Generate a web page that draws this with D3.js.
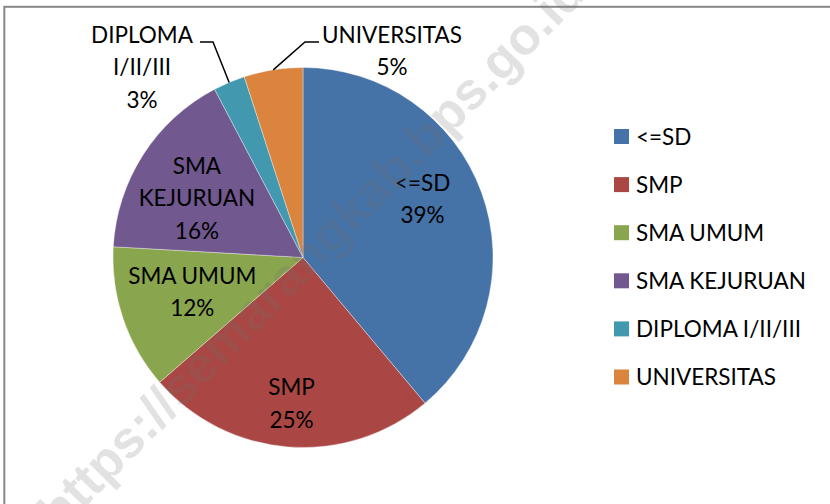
<!DOCTYPE html>
<html>
<head>
    <meta charset="utf-8">
    <script src="https://cdn.jsdelivr.net/npm/d3@7/dist/d3.min.js" charset="utf-8"></script>
    <title>Pendidikan - pie</title>
    <style type="text/css">
        html, body {
            margin: 0;
            padding: 0;
            background: #fff;
        }
        svg text {
            font-family: "Lato", "Noto Sans", sans-serif;
            font-size: 22.5px;
            fill: #000;
        }
        .watermark {
            font-family: "Liberation Sans", "Arial", sans-serif !important;
            font-weight: bold;
            font-size: 52px !important;
            fill: rgba(110, 110, 110, 0.2) !important;
        }
    </style>
</head>
<body>

<div id="chart"></div>

<script>

// data (percent of total)
var categories = ["<=SD", "SMP", "SMA UMUM", "SMA KEJURUAN", "DIPLOMA I/II/III", "UNIVERSITAS"];
var shares     = [38.9, 24.7, 12.3, 16.4, 2.7, 5.0];
var labelLines = [["<=SD"], ["SMP"], ["SMA UMUM"], ["SMA", "KEJURUAN"], ["DIPLOMA", "I/II/III"], ["UNIVERSITAS"]];
var colors     = ["#4572a7", "#aa4643", "#89a54e", "#71588f", "#4198af", "#db843d"];

var width = 830, height = 504;
var cx = 303, cy = 257.5, radius = 190;
var lineGap = 32.5, capH = 16;

// where the data labels sit: inside ones by radius fraction + angle nudge,
// outside ones (small slices) by block centre and leader elbow
var insideLabel = {
    0: {k: 0.70, da: -6},
    1: {k: 0.77, da: 0},
    2: {k: 0.61, da: 1.6},
    3: {k: 0.64, da: -3.5}
};
var outsideLabel = {
    4: {x: 142, y: 67,  elbow: [213, 42], end: [200, 42]},
    5: {x: 392, y: 51,  elbow: [305, 42], end: [319, 42]}
};

var svg = d3.select("#chart").append("svg")
        .attr("width", width)
        .attr("height", height);

// outer frame (runs past the right and bottom edge)
svg.append("rect")
        .attr("x", 4.3).attr("y", 6.8)
        .attr("width", 1000).attr("height", 700)
        .attr("fill", "none")
        .attr("stroke", "#888")
        .attr("stroke-width", 2);

var total = d3.sum(shares);
var pie = d3.pie().sort(null).value(function(d) { return d; });
var arcs = pie(shares);

var arc = d3.arc().innerRadius(0).outerRadius(radius);

var g = svg.append("g")
        .attr("transform", "translate(" + cx + "," + cy + ")");

g.selectAll("path.slice")
        .data(arcs)
        .enter().append("path")
        .attr("class", "slice")
        .attr("d", arc)
        .attr("fill", function(d, i) { return colors[i]; })
        .attr("stroke", "#fff")
        .attr("stroke-width", 0.6)
        .attr("stroke-opacity", 0.6);

function pct(v) { return Math.round(v / total * 100) + "%"; }

function drawBlock(lines, x, y) {
    var n = lines.length;
    var base = y - (n - 1) * lineGap / 2 + capH / 2;
    var t = svg.append("text")
            .attr("text-anchor", "middle");
    lines.forEach(function(s, j) {
        t.append("tspan")
                .attr("x", x)
                .attr("y", base + j * lineGap)
                .text(s);
    });
}

arcs.forEach(function(d, i) {
    var lines = labelLines[i].concat([pct(d.value)]);
    if (insideLabel[i]) {
        var p = insideLabel[i];
        var a = (d.startAngle + d.endAngle) / 2 + p.da * Math.PI / 180;
        var r = radius * p.k;
        drawBlock(lines, cx + r * Math.sin(a), cy - r * Math.cos(a));
    } else {
        var o = outsideLabel[i];
        var mid = (d.startAngle + d.endAngle) / 2;
        var sx = cx + radius * Math.sin(mid), sy = cy - radius * Math.cos(mid);
        svg.append("path")
                .attr("d", d3.line()([[sx, sy], o.elbow, o.end]))
                .attr("fill", "none")
                .attr("stroke", "#000")
                .attr("stroke-width", 1.5);
        drawBlock(lines, o.x, o.y);
    }
});

// legend
var legend = svg.append("g")
        .attr("transform", "translate(614,129)");

var rows = legend.selectAll("g")
        .data(categories)
        .enter().append("g")
        .attr("transform", function(d, i) { return "translate(0," + (i * 48.1) + ")"; });

rows.append("rect")
        .attr("width", 15).attr("height", 15)
        .attr("fill", function(d, i) { return colors[i]; });

rows.append("text")
        .attr("x", 22)
        .attr("y", 15.5)
        .text(function(d) { return d; });

// site watermark over everything
svg.append("text")
        .attr("class", "watermark")
        .attr("text-anchor", "middle")
        .attr("transform", "translate(324,264) rotate(-45.5)")
        .text("https://semarangkab.bps.go.id");

</script>

</body>
</html>
